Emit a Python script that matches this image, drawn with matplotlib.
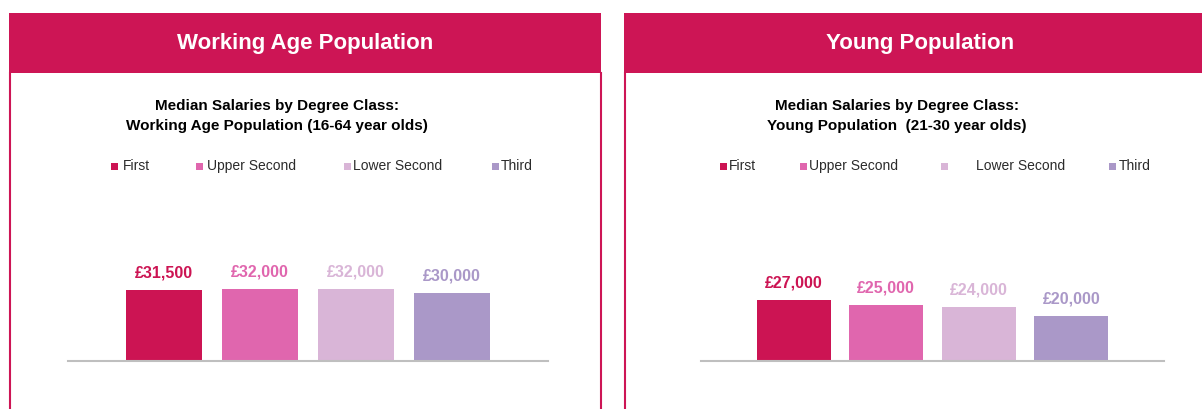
import matplotlib.pyplot as plt
from matplotlib.patches import Rectangle
from matplotlib.lines import Line2D

# data
classes = ["First", "Upper Second", "Lower Second", "Third"]
colours = ["#CC1453", "#E066AE", "#D9B5D7", "#AA98C8"]
working_age = [31500, 32000, 32000, 30000]
young = [27000, 25000, 24000, 20000]

headers = ["Working Age Population", "Young Population"]
subtitles = [
    ["Median Salaries by Degree Class:", "Working Age Population (16-64 year olds)"],
    ["Median Salaries by Degree Class:", "Young Population  (21-30 year olds)"],
]

MAGENTA = "#CD1555"
W, H = 1202, 409

plt.rcParams["font.family"] = ["Liberation Sans", "DejaVu Sans"]

fig = plt.figure(figsize=(W / 100, H / 100), dpi=100)


def fx(px):
    return px / W


def fy(py):
    return 1 - py / H


# layout of each panel, in pixels
panels = [
    dict(left=9, right=601, sub_x=277, axis=(68, 548),
         legend=[(111, 123), (196, 207), (344, 353), (492, 501)]),
    dict(left=624, right=1216, sub_x=897, axis=(701, 1164),
         legend=[(720, 729), (800, 809), (941, 976), (1109, 1119)]),
]

for p, title, sub, values in zip(panels, headers, subtitles, [working_age, young]):
    # header bar
    fig.add_artist(Rectangle((fx(p["left"]), fy(73)), fx(p["right"] - p["left"]), 60 / H,
                             transform=fig.transFigure, color=MAGENTA, lw=0))
    fig.text(fx((p["left"] + p["right"]) / 2), fy(44), title, ha="center", va="center",
             color="white", fontsize=16, fontweight="bold")
    # side borders
    for xb in (p["left"] + 0.5, p["right"]):
        fig.add_artist(Line2D([fx(xb), fx(xb)], [fy(73), 0], transform=fig.transFigure,
                              color=MAGENTA, lw=1.5))

    # chart title
    for line, yy in zip(sub, (106, 126)):
        fig.text(fx(p["sub_x"]), fy(yy), line, ha="center", va="center",
                 fontsize=11, fontweight="bold", color="black")

    # legend
    for (sq, tx), name, c in zip(p["legend"], classes, colours):
        fig.add_artist(Rectangle((fx(sq), fy(170)), fx(7), 7 / H,
                                 transform=fig.transFigure, color=c, lw=0))
        fig.text(fx(tx), fy(166), name, ha="left", va="center",
                 fontsize=10, color="#2b2b2b")

    # bars
    x0, x1 = p["axis"]
    ax = fig.add_axes([fx(x0), fy(361), fx(x1 - x0), 135.4 / H])
    ax.patch.set_visible(False)
    ax.bar(range(len(classes)), values, width=0.8, color=colours)
    ax.set_xlim(-1, len(classes))
    ax.set_ylim(0, 60000)
    for i, (v, c) in enumerate(zip(values, colours)):
        ax.annotate(f"£{v:,}", (i, v), xytext=(0, 9), textcoords="offset points",
                    ha="center", va="baseline", fontsize=11.5, fontweight="bold", color=c)
    for s in ("top", "left", "right"):
        ax.spines[s].set_visible(False)
    ax.spines["bottom"].set_color("#BFBFBF")
    ax.spines["bottom"].set_linewidth(1.5)
    ax.set_xticks([])
    ax.set_yticks([])

fig.savefig("out.png", dpi=100)
